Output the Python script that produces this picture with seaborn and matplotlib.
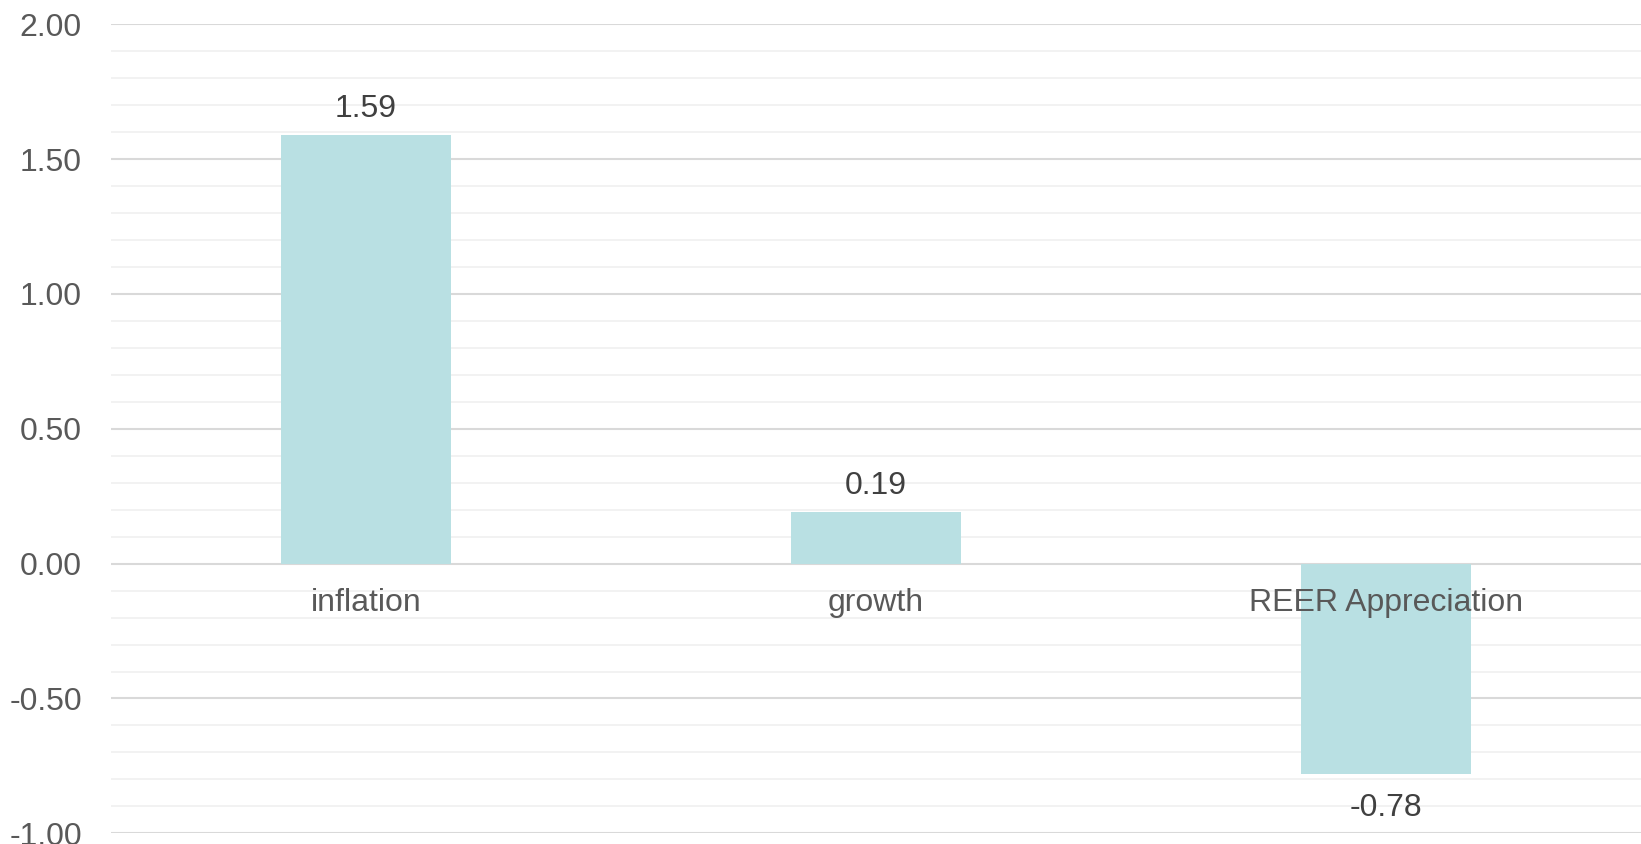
import matplotlib
matplotlib.use("Agg")
import matplotlib.pyplot as plt
from matplotlib.ticker import MultipleLocator, FuncFormatter
import seaborn as sns
import pandas as pd

categories = ["inflation", "growth", "REER Appreciation"]
values = [1.59, 0.19, -0.78]
y_ticks = [-1.0, -0.5, 0.0, 0.5, 1.0, 1.5, 2.0]

sns.set_theme(style="white")
plt.rcParams["font.family"] = ["Liberation Sans", "DejaVu Sans"]

df = pd.DataFrame({"category": categories, "value": values})

fig = plt.figure(figsize=(16.41, 8.44), dpi=100)
ax = fig.add_axes([111 / 1641, (844 - 833.3) / 844, 1 - 111 / 1641, (833.3 - 24.3) / 844])

sns.barplot(data=df, x="category", y="value", color="#b9e0e3", saturation=1,
            width=0.333, linewidth=0, ax=ax, zorder=3)

ax.set_xlim(-0.5, 2.5)
ax.set_ylim(-1.0, 2.0)
ax.set_yticks(y_ticks)
ax.yaxis.set_minor_locator(MultipleLocator(0.1))
ax.yaxis.set_major_formatter(FuncFormatter(lambda v, _: f"{v:.2f}"))
ax.grid(axis="y", which="major", color="#d9d9d9", linewidth=1.5, zorder=0)
ax.grid(axis="y", which="minor", color="#f0f0f0", linewidth=1.2, zorder=0)
ax.set_axisbelow(True)
for s in ax.spines.values():
    s.set_visible(False)
ax.tick_params(axis="y", which="both", length=0, pad=21, labelsize=23, labelcolor="#595959")
ax.tick_params(axis="x", length=0)
ax.set_xticklabels([])
ax.set_xlabel("")
ax.set_ylabel("")

# category names just under the zero line
for i, name in enumerate(categories):
    ax.annotate(name, (i, 0), xytext=(0, -39), textcoords="offset pixels",
                ha="center", va="center", fontsize=23, color="#595959", zorder=5)

# value labels at bar ends
for i, v in enumerate(values):
    off = 26 if v >= 0 else -34
    ax.annotate(f"{v:.2f}", (i, v), xytext=(0, off), textcoords="offset pixels",
                ha="center", va="center", fontsize=23, color="#404040", zorder=5)

fig.savefig("out.png", dpi=100)
